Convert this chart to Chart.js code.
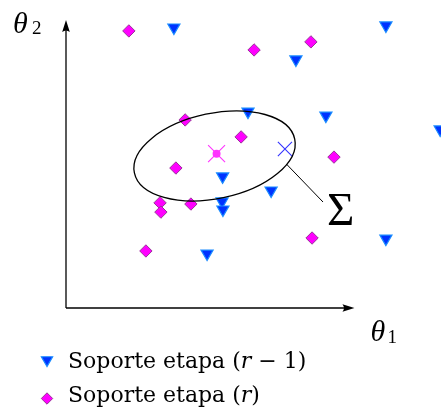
<!DOCTYPE html>
<html>
<head>
<meta charset="utf-8">
<script src="https://cdn.jsdelivr.net/npm/chart.js"></script>
<style>
  html, body { margin: 0; padding: 0; background: #ffffff; }
  #soporte { display: block; }
</style>
</head>
<body>
<canvas id="soporte" width="441" height="413"></canvas>
<script>
// Soporte etapa (r - 1): triangulos azules
const prevX = [3.74, 11.09, 7.97, 6.31, 9.01, 12.97, 5.43, 7.11, 5.41, 5.44, 11.09, 4.89];
const prevY = [9.74, 9.81, 8.63, 6.82, 6.68, 6.20, 4.57, 4.08, 3.70, 3.42, 2.41, 1.89];

// Soporte etapa (r): rombos magenta
const curX = [2.18, 6.52, 8.49, 4.13, 6.07, 3.81, 9.29, 3.26, 3.29, 4.33, 8.53, 2.77];
const curY = [9.62, 8.96, 9.24, 6.53, 5.94, 4.86, 5.24, 3.65, 3.33, 3.61, 2.43, 1.98];

// medias de cada etapa
const meanPrev = [7.59, 5.52];
const meanCur = [5.22, 5.36];

// elipse de covarianza (centro, semiejes, angulo en grados)
const ellCenter = [5.15, 5.28];
const ellAxes = [2.84, 1.48];
const ellAngle = 11.9;

// linea hacia la etiqueta Sigma
const sigmaLine = [[7.64, 5.0], [8.91, 3.68]];
const sigmaPos = [9.05, 2.88];

const legendLabels = ["Soporte etapa (", "r", " \u2212 1)"];
const legendLabels2 = ["Soporte etapa (", "r", ")"];

const SERIF = "'Liberation Serif', 'DejaVu Serif', serif";
const SERIF_WIDE = "'DejaVu Serif', 'Liberation Serif', serif";

const toPoints = (xs, ys) => xs.map((x, i) => ({ x: x, y: ys[i] }));

const canvas = document.getElementById("soporte");

const arrow = (ctx, x1, y1, x2, y2) => {
  const ang = Math.atan2(y2 - y1, x2 - x1);
  const len = 12, half = 3.8;
  ctx.beginPath();
  ctx.moveTo(x1, y1);
  ctx.lineTo(x2 - Math.cos(ang) * 8, y2 - Math.sin(ang) * 8);
  ctx.stroke();
  ctx.save();
  ctx.translate(x2, y2);
  ctx.rotate(ang);
  ctx.beginPath();
  ctx.moveTo(0, 0);
  ctx.lineTo(-len, -half);
  ctx.quadraticCurveTo(-len + 3, 0, -len, half);
  ctx.closePath();
  ctx.fill();
  ctx.restore();
};

const drawMixed = (ctx, parts, x, y, size) => {
  parts.forEach((p, i) => {
    ctx.font = (i === 1 ? "italic " : "") + size + "px " + SERIF_WIDE;
    ctx.fillText(p, x, y);
    x += ctx.measureText(p).width;
  });
};

const extras = {
  id: "extras",
  afterDatasetsDraw(chart) {
    const ctx = chart.ctx;
    const sx = chart.scales.x, sy = chart.scales.y;
    const px = v => sx.getPixelForValue(v);
    const py = v => sy.getPixelForValue(v);

    ctx.save();
    ctx.strokeStyle = "#000000";
    ctx.fillStyle = "#000000";
    ctx.lineWidth = 1.3;

    // ejes
    arrow(ctx, px(0), py(0), px(10), py(0));
    arrow(ctx, px(0), py(0), px(0), py(10));

    // elipse
    ctx.beginPath();
    ctx.ellipse(px(ellCenter[0]), py(ellCenter[1]),
      px(ellAxes[0]) - px(0), py(0) - py(ellAxes[1]),
      -ellAngle * Math.PI / 180, 0, 2 * Math.PI);
    ctx.stroke();

    // linea hacia Sigma
    ctx.lineWidth = 1;
    ctx.beginPath();
    ctx.moveTo(px(sigmaLine[0][0]), py(sigmaLine[0][1]));
    ctx.lineTo(px(sigmaLine[1][0]), py(sigmaLine[1][1]));
    ctx.stroke();

    ctx.textAlign = "left";
    ctx.textBaseline = "alphabetic";
    ctx.font = "47px " + SERIF;
    ctx.fillText("\u03A3", px(sigmaPos[0]), py(sigmaPos[1]));

    // etiquetas de ejes
    ctx.font = "italic 30px " + SERIF;
    ctx.fillText("\u03B8", px(10) + 16, py(0) + 33);
    ctx.fillText("\u03B8", px(0) - 53, py(10) + 13);
    ctx.font = "19px " + SERIF;
    ctx.fillText("1", px(10) + 33, py(0) + 35);
    ctx.fillText("2", px(0) - 34, py(10) + 14);

    // leyenda
    const ds = chart.data.datasets;
    const rows = [[ds[0], legendLabels, 360, 368], [ds[1], legendLabels2, 398.5, 402]];
    rows.forEach(([d, txt, my, base]) => {
      ctx.fillStyle = d.backgroundColor;
      ctx.strokeStyle = d.borderColor;
      ctx.lineWidth = d.borderWidth;
      Chart.helpers.drawPoint(ctx, {
        pointStyle: d.pointStyle,
        rotation: d.pointRotation || 0,
        radius: d.pointRadius - 0.5,
        borderWidth: d.borderWidth
      }, 47, my);
      ctx.fillStyle = "#000000";
      drawMixed(ctx, txt, 68, base, 22);
    });
    ctx.restore();
  }
};

new Chart(canvas, {
  type: "scatter",
  data: {
    datasets: [
      {
        label: "Soporte etapa (r - 1)",
        data: toPoints(prevX, prevY),
        pointStyle: "triangle",
        pointRotation: 180,
        pointRadius: 7,
        backgroundColor: "#0033ff",
        borderColor: "#1a8cff",
        borderWidth: 1.2,
        clip: false
      },
      {
        label: "Soporte etapa (r)",
        data: toPoints(curX, curY),
        pointStyle: "rectRot",
        pointRadius: 6.2,
        backgroundColor: "#ff00ff",
        borderColor: "#993399",
        borderWidth: 1,
        clip: false
      },
      {
        label: "media r",
        data: [{ x: meanCur[0], y: meanCur[1] }],
        pointStyle: "crossRot",
        pointRadius: 12,
        borderColor: "#ff33ff",
        borderWidth: 1.1,
        clip: false
      },
      {
        label: "media r punto",
        data: [{ x: meanCur[0], y: meanCur[1] }],
        pointStyle: "circle",
        pointRadius: 4,
        backgroundColor: "#ff33ff",
        borderColor: "#ff33ff",
        borderWidth: 0,
        clip: false
      },
      {
        label: "media r - 1",
        data: [{ x: meanPrev[0], y: meanPrev[1] }],
        pointStyle: "crossRot",
        pointRadius: 10,
        borderColor: "#3333ff",
        borderWidth: 1.1,
        clip: false
      }
    ]
  },
  options: {
    responsive: false,
    animation: false,
    events: [],
    layout: {
      autoPadding: false,
      padding: { left: 66, right: 0, top: 20, bottom: 105 }
    },
    scales: {
      x: { type: "linear", min: 0, max: 13, display: false },
      y: { type: "linear", min: 0, max: 10, display: false }
    },
    plugins: {
      legend: { display: false },
      tooltip: { enabled: false }
    }
  },
  plugins: [extras]
});
</script>
</body>
</html>
